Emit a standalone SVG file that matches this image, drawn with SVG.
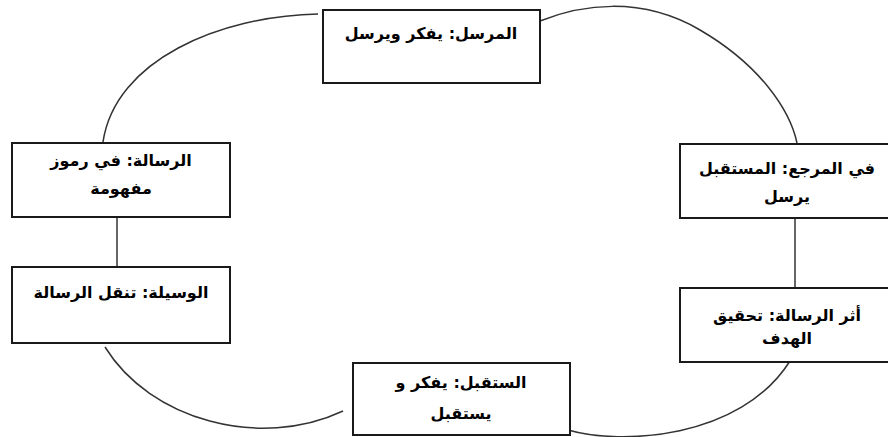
<svg xmlns="http://www.w3.org/2000/svg" width="888" height="437" viewBox="0 0 888 437">
<style>
.box{fill:#fff;stroke:#1a1a1a;stroke-width:2}
.con{fill:none;stroke:#333;stroke-width:1.5}
text{font-family:"DejaVu Sans","Noto Sans",sans-serif;font-weight:bold;font-size:16px;fill:#000;text-anchor:middle}
</style>
<rect width="888" height="437" fill="#fff"/>
<g id="connectors">
<path class="con" d="M318,14 C220,16 115,60 103,142"/>
<path class="con" d="M540,21 C580,5 640,-5 700,30 C760,65 790,110 797,143"/>
<line class="con" x1="117" y1="217" x2="117" y2="267"/>
<line class="con" x1="795" y1="218" x2="795" y2="288"/>
<path class="con" d="M105,347 C150,420 260,450 343,411"/>
<path class="con" d="M790,361 C740,440 620,445 568,430"/>
</g>
<g id="sender">
<rect class="box" x="323" y="10" width="217" height="73"/>
<text x="431" y="39" direction="rtl">المرسل: يفكر ويرسل</text>
</g>
<g id="message">
<rect class="box" x="12" y="143" width="218" height="74"/>
<text x="121" y="166" direction="rtl">الرسالة: في رموز</text>
<text x="121" y="194" direction="rtl">مفهومة</text>
</g>
<g id="medium">
<rect class="box" x="12" y="267" width="218" height="76"/>
<text x="121" y="298" direction="rtl">الوسيلة: تنقل الرسالة</text>
</g>
<g id="receiver">
<rect class="box" x="353" y="363" width="217" height="72"/>
<text x="461" y="388" direction="rtl">الستقبل: يفكر و</text>
<text x="461" y="419" direction="rtl">يستقبل</text>
</g>
<g id="feedback">
<rect class="box" x="680" y="144" width="214" height="74"/>
<text x="787" y="174" direction="rtl">في المرجع: المستقبل</text>
<text x="787" y="202" direction="rtl">يرسل</text>
</g>
<g id="effect">
<rect class="box" x="680" y="288" width="214" height="74"/>
<text x="787" y="321" direction="rtl">أثر الرسالة: تحقيق</text>
<text x="787" y="344" direction="rtl">الهدف</text>
</g>
</svg>
